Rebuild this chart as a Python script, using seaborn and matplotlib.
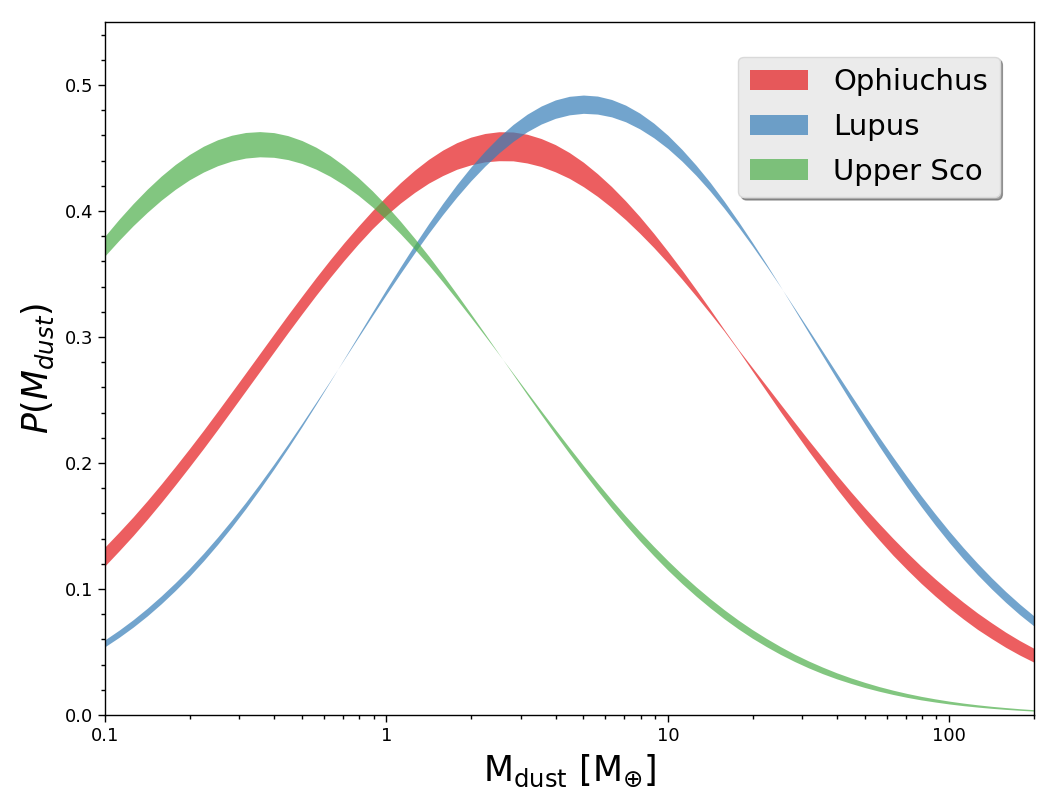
import matplotlib
matplotlib.use("Agg")
import matplotlib.pyplot as plt
from matplotlib.ticker import MultipleLocator, LogLocator, NullFormatter
import seaborn as sns

sns.set_style("ticks")
plt.rcParams['font.family'] = ['DejaVu Sans']
plt.rcParams['mathtext.fontset'] = 'dejavusans'
plt.rcParams.update({"text.color": "black", "axes.labelcolor": "black",
                     "xtick.color": "black", "ytick.color": "black"})

# dust mass grid (Earth masses)
mdust = [0.1, 0.1122, 0.1259, 0.1413, 0.1585, 0.1778, 0.1995, 0.2239, 0.2512, 0.2818,
         0.3162, 0.3548, 0.3981, 0.4467, 0.5012, 0.5623, 0.631, 0.7079, 0.7943, 0.8913,
         1.0, 1.122, 1.259, 1.413, 1.585, 1.778, 1.995, 2.239, 2.512, 2.818,
         3.162, 3.548, 3.981, 4.467, 5.012, 5.623, 6.31, 7.079, 7.943, 8.913,
         10.0, 11.22, 12.59, 14.13, 15.85, 17.78, 19.95, 22.39, 25.12, 28.18,
         31.62, 35.48, 39.81, 44.67, 50.12, 56.23, 63.1, 70.79, 79.43, 89.13,
         100.0, 112.2, 125.9, 141.3, 158.5, 177.8, 200.0]

# band edges per region
oph_lo = [0.1184, 0.1302, 0.1424, 0.1553, 0.1687, 0.1826, 0.1969, 0.2115, 0.2265, 0.2418,
          0.2572, 0.2726, 0.2880, 0.3034, 0.3184, 0.3331, 0.3473, 0.3609, 0.3738, 0.3859,
          0.3967, 0.4063, 0.4147, 0.4221, 0.4281, 0.4331, 0.4366, 0.4390, 0.4399, 0.4398,
          0.4381, 0.4353, 0.4311, 0.4259, 0.4193, 0.4116, 0.4028, 0.3931, 0.3824, 0.3710,
          0.3588, 0.3460, 0.3326, 0.3188, 0.3047, 0.2895, 0.2732, 0.2570, 0.2408, 0.2251,
          0.2095, 0.1945, 0.1797, 0.1656, 0.1520, 0.1392, 0.1268, 0.1154, 0.1045, 0.0944,
          0.0849, 0.0762, 0.0680, 0.0607, 0.0538, 0.0476, 0.0419]
oph_hi = [0.1334, 0.1451, 0.1572, 0.1700, 0.1833, 0.1971, 0.2113, 0.2259, 0.2409, 0.2561,
          0.2714, 0.2868, 0.3022, 0.3175, 0.3324, 0.3471, 0.3613, 0.3749, 0.3878, 0.4002,
          0.4117, 0.4225, 0.4323, 0.4410, 0.4483, 0.4542, 0.4586, 0.4615, 0.4629, 0.4627,
          0.4609, 0.4575, 0.4527, 0.4464, 0.4387, 0.4296, 0.4194, 0.4080, 0.3956, 0.3822,
          0.3680, 0.3532, 0.3378, 0.3220, 0.3059, 0.2903, 0.2758, 0.2613, 0.2468, 0.2324,
          0.2181, 0.2042, 0.1905, 0.1772, 0.1644, 0.1521, 0.1402, 0.1289, 0.1181, 0.1080,
          0.0985, 0.0895, 0.0810, 0.0732, 0.0658, 0.0591, 0.0529]

lup_a = [0.0542, 0.0616, 0.0697, 0.0786, 0.0883, 0.0988, 0.1101, 0.1223, 0.1353, 0.1491,
         0.1637, 0.1791, 0.1951, 0.2117, 0.2289, 0.2466, 0.2646, 0.2829, 0.3013, 0.3197,
         0.3379, 0.3557, 0.3731, 0.3899, 0.4059, 0.4209, 0.4348, 0.4475, 0.4588, 0.4686,
         0.4768, 0.4833, 0.4881, 0.4910, 0.4920, 0.4912, 0.4885, 0.4840, 0.4777, 0.4697,
         0.4601, 0.4489, 0.4364, 0.4227, 0.4078, 0.3919, 0.3752, 0.3579, 0.3401, 0.3219,
         0.3035, 0.2851, 0.2668, 0.2487, 0.2310, 0.2137, 0.1970, 0.1809, 0.1655, 0.1508,
         0.1369, 0.1238, 0.1115, 0.1001, 0.0895, 0.0797, 0.0706]
lup_b = [0.0597, 0.0673, 0.0756, 0.0847, 0.0945, 0.1050, 0.1162, 0.1283, 0.1411, 0.1546,
         0.1687, 0.1836, 0.1990, 0.2150, 0.2314, 0.2482, 0.2652, 0.2824, 0.2997, 0.3169,
         0.3339, 0.3505, 0.3667, 0.3823, 0.3971, 0.4110, 0.4239, 0.4356, 0.4461, 0.4552,
         0.4629, 0.4690, 0.4735, 0.4763, 0.4775, 0.4769, 0.4747, 0.4708, 0.4652, 0.4581,
         0.4496, 0.4396, 0.4283, 0.4158, 0.4022, 0.3877, 0.3724, 0.3564, 0.3399, 0.3230,
         0.3059, 0.2887, 0.2714, 0.2543, 0.2374, 0.2208, 0.2047, 0.1891, 0.1740, 0.1596,
         0.1458, 0.1328, 0.1205, 0.1089, 0.0981, 0.0881, 0.0786]

usco_a = [0.3801, 0.3934, 0.4058, 0.4173, 0.4277, 0.4369, 0.4448, 0.4514, 0.4565, 0.4601,
          0.4623, 0.4630, 0.4622, 0.4598, 0.4559, 0.4506, 0.4439, 0.4358, 0.4265, 0.4160,
          0.4044, 0.3918, 0.3784, 0.3643, 0.3495, 0.3342, 0.3185, 0.3026, 0.2865, 0.2704,
          0.2543, 0.2384, 0.2228, 0.2076, 0.1927, 0.1783, 0.1644, 0.1511, 0.1384, 0.1264,
          0.1150, 0.1044, 0.0944, 0.0851, 0.0764, 0.0684, 0.0610, 0.0543, 0.0481, 0.0425,
          0.0374, 0.0328, 0.0287, 0.0251, 0.0218, 0.0189, 0.0163, 0.0140, 0.0120, 0.0103,
          0.00875, 0.00743, 0.00629, 0.0053, 0.00446, 0.00374, 0.00311]
usco_b = [0.3644, 0.3767, 0.3883, 0.3989, 0.4086, 0.4172, 0.4247, 0.4309, 0.4359, 0.4396,
          0.4420, 0.4430, 0.4426, 0.4408, 0.4377, 0.4332, 0.4275, 0.4206, 0.4125, 0.4033,
          0.3931, 0.3819, 0.3699, 0.3572, 0.3438, 0.3299, 0.3156, 0.3010, 0.2862, 0.2713,
          0.2563, 0.2414, 0.2267, 0.2122, 0.1980, 0.1842, 0.1708, 0.1579, 0.1456, 0.1338,
          0.1225, 0.1118, 0.1018, 0.0924, 0.0836, 0.0754, 0.0678, 0.0608, 0.0543, 0.0483,
          0.0429, 0.0380, 0.0335, 0.0295, 0.0259, 0.0226, 0.0197, 0.0171, 0.0148, 0.0128,
          0.0110, 0.00945, 0.0081, 0.0069, 0.0059, 0.00498, 0.0042]

regions = ["Ophiuchus", "Lupus", "Upper Sco"]
xtick_vals = [0.1, 1, 10, 100]
xtick_labels = ["0.1", "1", "10", "100"]
ytick_vals = [0.0, 0.1, 0.2, 0.3, 0.4, 0.5]
ytick_labels = ["0.0", "0.1", "0.2", "0.3", "0.4", "0.5"]

colors = sns.color_palette("Set1", 3)

fig, ax = plt.subplots(figsize=(10.58, 8.08), dpi=100)
fig.subplots_adjust(left=0.0992, right=0.9773, top=0.9728, bottom=0.1151)

bands = [(oph_lo, oph_hi), (lup_a, lup_b), (usco_a, usco_b)]
for name, (ya, yb), c in zip(regions, bands, colors):
    ax.fill_between(mdust, ya, yb, color=c, alpha=0.7, lw=0, label=name)

ax.set_xscale("log")
ax.set_xlim(0.1, 200)
ax.set_ylim(0, 0.55)
ax.set_xticks(xtick_vals)
ax.set_xticklabels(xtick_labels)
ax.xaxis.set_minor_locator(LogLocator(base=10, subs=range(2, 10)))
ax.xaxis.set_minor_formatter(NullFormatter())
ax.set_yticks(ytick_vals)
ax.set_yticklabels(ytick_labels)
ax.yaxis.set_minor_locator(MultipleLocator(0.02))

ax.tick_params(which="both", direction="out", labelsize=13, width=1.0)
ax.tick_params(which="major", length=5)
ax.tick_params(which="minor", length=3.2)
for sp in ax.spines.values():
    sp.set_visible(True)
    sp.set_color("black")
    sp.set_linewidth(1.0)

ax.set_xlabel(r"$\mathrm{M_{dust}\ [M_{\oplus}]}$", fontsize=25, labelpad=6)
ax.set_ylabel(r"$P(M_{dust})$", fontsize=25, labelpad=6)

leg = ax.legend(loc="upper right", bbox_to_anchor=(0.963, 0.95), borderaxespad=0,
                fontsize=21, shadow=True, fancybox=True, framealpha=1,
                facecolor="#ebebeb", edgecolor="0.85", labelspacing=0.57,
                handlelength=2.0, handletextpad=0.85)

fig.savefig("out.png", dpi=100)
